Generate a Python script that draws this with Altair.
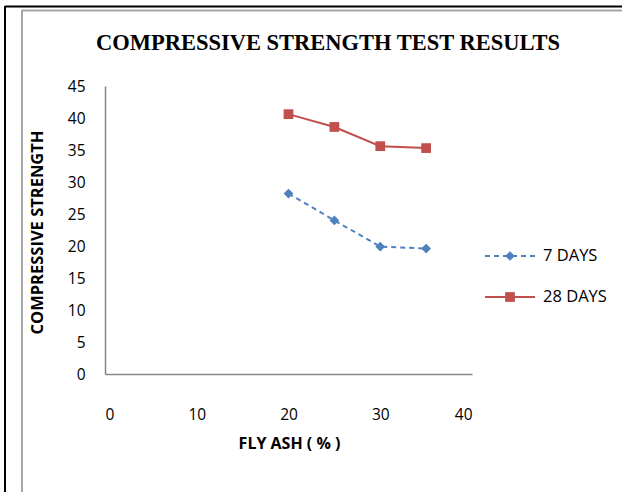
import altair as alt
import pandas as pd

fly_ash = [20, 25, 30, 35]
days7 = [28.2, 24.0, 19.9, 19.6]
days28 = [40.6, 38.6, 35.6, 35.3]
series_names = ["7 DAYS", "28 DAYS"]
colors = ["#4F81BD", "#C0504D"]

x_ticks = [0, 10, 20, 30, 40]
y_ticks = [0, 5, 10, 15, 20, 25, 30, 35, 40, 45]

df7 = pd.DataFrame({"x": fly_ash, "y": days7})
df28 = pd.DataFrame({"x": fly_ash, "y": days28})
one = pd.DataFrame({"k": [0]})

W, H = 367, 288
L, T = 105, 86

xs = alt.Scale(domain=[0, 40], nice=False)
ys = alt.Scale(domain=[0, 45], nice=False)

xax = alt.Axis(values=x_ticks, title="FLY ASH ( % )", grid=False, ticks=False,
               domainColor="#868686", domainWidth=1.5, labelPadding=33,
               labelFont="Open Sans", labelFontSize=15.5, labelColor="#000",
               titleFont="Open Sans", titleFontSize=16, titleFontWeight="bold",
               titleColor="#000", titleX=184, titleY=69, titleBaseline="middle")
yax = alt.Axis(values=y_ticks, title="COMPRESSIVE  STRENGTH", grid=False, ticks=False,
               domainColor="#868686", domainWidth=1.5, labelPadding=20,
               labelFont="Open Sans", labelFontSize=15.5, labelColor="#000",
               titleFont="Open Sans", titleFontSize=16.5, titleFontWeight="bold",
               titleColor="#000", titleX=-68, titleY=146, titleBaseline="middle",
               titleAngle=-90)

base7 = alt.Chart(df7).encode(x=alt.X("x:Q", scale=xs, axis=xax),
                              y=alt.Y("y:Q", scale=ys, axis=yax))
line7 = base7.mark_line(color=colors[0], strokeWidth=2, strokeDash=[5, 4])
pt7 = base7.mark_point(shape="diamond", filled=True, color=colors[0], size=95, opacity=1)

base28 = alt.Chart(df28).encode(x=alt.X("x:Q", scale=xs, axis=xax),
                                y=alt.Y("y:Q", scale=ys, axis=yax))
line28 = base28.mark_line(color=colors[1], strokeWidth=2)
pt28 = base28.mark_point(shape="square", filled=True, color=colors[1], size=95, opacity=1)

# legend
leg = []
for i, (name, col) in enumerate(zip(series_names, colors)):
    yy = 170 + i * 41
    dash = [5, 4] if i == 0 else [1, 0]
    leg.append(alt.Chart(one).mark_rule(color=col, strokeWidth=2, strokeDash=dash).encode(
        x=alt.value(380), x2=alt.value(430), y=alt.value(yy)))
    leg.append(alt.Chart(one).mark_point(shape="diamond" if i == 0 else "square", filled=True,
                                         color=col, size=95, opacity=1).encode(
        x=alt.value(405), y=alt.value(yy)))
    leg.append(alt.Chart(pd.DataFrame({"t": [name]})).mark_text(
        align="left", baseline="middle", font="Open Sans", fontSize=16.5, color="#000").encode(
        x=alt.value(438), y=alt.value(yy), text="t:N"))

title = alt.Chart(pd.DataFrame({"t": ["COMPRESSIVE STRENGTH TEST RESULTS"]})).mark_text(
    align="center", baseline="middle", font="Liberation Serif", fontSize=22.5,
    fontWeight="bold", color="#000").encode(x=alt.value(223), y=alt.value(-43), text="t:N")

# frame lines
frames = [
    alt.Chart(one).mark_rule(color="#000", strokeWidth=2).encode(
        x=alt.value(5 - L), y=alt.value(6 - T), y2=alt.value(492 - T)),
    alt.Chart(one).mark_rule(color="#000", strokeWidth=2).encode(
        x=alt.value(5 - L), x2=alt.value(622 - L), y=alt.value(6.5 - T)),
    alt.Chart(one).mark_rule(color="#A6A6A6", strokeWidth=2).encode(
        x=alt.value(22 - L), y=alt.value(10 - T), y2=alt.value(492 - T)),
    alt.Chart(one).mark_rule(color="#A6A6A6", strokeWidth=2).encode(
        x=alt.value(22 - L), x2=alt.value(622 - L), y=alt.value(10.5 - T)),
]

chart = alt.layer(line7, pt7, line28, pt28, title, *leg, *frames).properties(
    width=W, height=H,
    autosize=alt.AutoSizeParams(type="none"),
    padding={"left": L, "top": T, "right": 622 - L - W, "bottom": 492 - T - H},
    background="#ffffff",
).configure_view(stroke=None)

chart.save("out.html", embed_options={"renderer": "svg", "actions": False})
